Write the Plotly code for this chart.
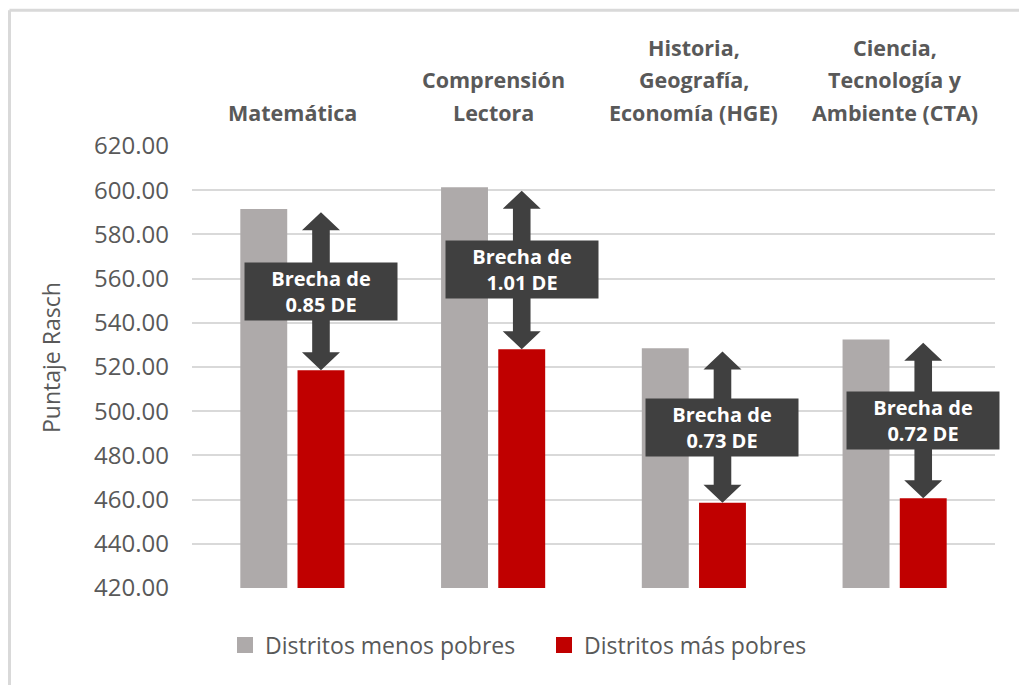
import plotly.graph_objects as go

# ---------------- data ----------------
categories = ["Matemática", "Comprensión<br>Lectora",
              "Historia,<br>Geografía,<br>Economía (HGE)",
              "Ciencia,<br>Tecnología y<br>Ambiente (CTA)"]
menos_pobres = [591.5, 601.3, 528.5, 532.5]
mas_pobres = [518.5, 528.0, 458.6, 460.6]
brechas = ["0.85", "1.01", "0.73", "0.72"]
series_names = ["Distritos menos pobres", "Distritos más pobres"]
y_ticks = [420, 440, 460, 480, 500, 520, 540, 560, 580, 600, 620]

# ---------------- style ----------------
W, H = 1019, 685
ML, MR, MT, MB = 192, 24, 146, 97
PW, PH = W - ML - MR, H - MT - MB
YMIN, YMAX = 420, 620
GREY, RED, DARK, TXT = "#aeaaaa", "#c00000", "#404040", "#595959"
BARGAP, GROUPGAP = 0.43, 0.18
FONT = "Open Sans"

ypx = PH / (YMAX - YMIN)          # pixels per data unit (y)
xpx = PW / len(categories)        # pixels per category


def px_x(p):  # pixel x -> paper
    return (p - ML) / PW


def px_y(p):  # pixel y -> paper
    return (MT + PH - p) / PH


xs = list(range(len(categories)))
fig = go.Figure()
fig.add_trace(go.Bar(x=xs, y=menos_pobres, name=series_names[0],
                     marker=dict(color=GREY, line=dict(width=0)),
                     showlegend=False))
fig.add_trace(go.Bar(x=xs, y=mas_pobres, name=series_names[1],
                     marker=dict(color=RED, line=dict(width=0)),
                     showlegend=False))
# legend entries (square markers)
for name, col in zip(series_names, [GREY, RED]):
    fig.add_trace(go.Scatter(x=[None], y=[None], mode="markers", name=name,
                             marker=dict(symbol="square", size=16, color=col,
                                         line=dict(width=0)),
                             showlegend=True))

off = (1 - BARGAP) / 4
hh = 18 / ypx      # arrow head height (data units)
hw = 19 / xpx      # arrow head half width
sw = 8.8 / xpx     # shaft half width
shapes = []
annotations = []
for i, (g, r, b) in enumerate(zip(menos_pobres, mas_pobres, brechas)):
    c = i + off
    top, bot = g - 1.5, r
    path = (f"M{c},{top} L{c+hw},{top-hh} L{c+sw},{top-hh} L{c+sw},{bot+hh} "
            f"L{c+hw},{bot+hh} L{c},{bot} L{c-hw},{bot+hh} L{c-sw},{bot+hh} "
            f"L{c-sw},{top-hh} L{c-hw},{top-hh} Z")
    shapes.append(dict(type="path", xref="x", yref="y", path=path,
                       fillcolor=DARK, line=dict(width=0), layer="above"))
    annotations.append(dict(x=c, y=(top + bot) / 2, xref="x", yref="y",
                            text=f"<b>Brecha de<br>{b} DE</b>", showarrow=False,
                            xanchor="center", yanchor="middle",
                            bgcolor=DARK, width=152, height=57, borderpad=0,
                            font=dict(family=FONT, size=20, color="white")))

# category labels above plot
for i, cat in enumerate(categories):
    lines = cat.split("<br>")
    n = len(lines)
    for k, line in enumerate(lines):
        center = 112.5 - 32.7 * (n - 1 - k)
        annotations.append(dict(x=i, y=1, xref="x", yref="paper",
                                text=f"<b>{line}</b>", showarrow=False,
                                xanchor="center", yanchor="middle",
                                yshift=MT - center,
                                font=dict(family=FONT, size=21.5, color=TXT)))

# y-axis title
annotations.append(dict(x=px_x(51), y=px_y(358), xref="paper", yref="paper",
                        text="Puntaje Rasch", textangle=-90, showarrow=False,
                        xanchor="center", yanchor="middle",
                        font=dict(family=FONT, size=23, color=TXT)))

# outer frame (top + left edges)
fx, fy = px_x(9.5), px_y(10.3)
shapes.append(dict(type="line", xref="paper", yref="paper", x0=fx, x1=1.2,
                   y0=fy, y1=fy, line=dict(color="#d9d9d9", width=3)))
shapes.append(dict(type="line", xref="paper", yref="paper", x0=fx, x1=fx,
                   y0=fy, y1=-0.4, line=dict(color="#d9d9d9", width=3)))

fig.update_layout(
    width=W, height=H,
    margin=dict(l=ML, r=MR, t=MT, b=MB, pad=0),
    paper_bgcolor="white", plot_bgcolor="white",
    barmode="group", bargap=BARGAP, bargroupgap=GROUPGAP,
    shapes=shapes, annotations=annotations,
    showlegend=True,
    legend=dict(orientation="h", x=px_x(225), xanchor="left",
                y=px_y(645), yanchor="middle", entrywidth=274,
                itemsizing="trace",
                font=dict(family=FONT, size=23, color=TXT),
                bgcolor="rgba(0,0,0,0)"),
    xaxis=dict(range=[-0.5, len(categories) - 0.5], showticklabels=False,
               showgrid=False, zeroline=False, showline=False, fixedrange=True),
    yaxis=dict(range=[YMIN, YMAX], tickvals=y_ticks,
               ticktext=[f"{v:.2f}" for v in y_ticks],
               showgrid=True, gridcolor="#d9d9d9", gridwidth=1.5,
               zeroline=False, showline=False, ticks="",
               ticklabelstandoff=22,
               tickfont=dict(family=FONT, size=24, color=TXT)),
)

fig.write_html("out.html", config={"displayModeBar": False},
               post_script="document.body.style.margin='0';"
                           "document.body.style.overflow='hidden';")
